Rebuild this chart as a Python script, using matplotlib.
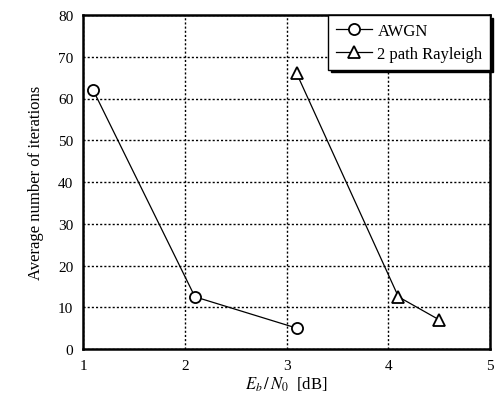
import matplotlib
matplotlib.use("Agg")
import matplotlib.pyplot as plt

plt.rcParams['font.family'] = ['Liberation Serif', 'DejaVu Serif']
plt.rcParams['mathtext.fontset'] = 'stix'

# data
snr_awgn = [1.1, 2.1, 3.1]
iter_awgn = [62, 12.5, 5]
snr_ray = [3.1, 4.1, 4.5]
iter_ray = [66, 12.5, 7]

fig = plt.figure(figsize=(4.97, 4.02), dpi=100)
ax = fig.add_axes([83/497, 1 - 350/402, 407/497, 334/402])

ax.plot(snr_awgn, iter_awgn, color='black', lw=0.9, marker='o', ms=8,
        mfc='white', mec='black', mew=1.3, label='AWGN')
ax.plot(snr_ray, iter_ray, color='black', lw=0.9, marker='^', ms=8,
        mfc='white', mec='black', mew=1.3, label='2 path Rayleigh')

ax.set_xlim(1, 5)
ax.set_ylim(0, 80)
ax.set_xticks([1, 2, 3, 4, 5])
ax.set_yticks(range(0, 81, 10))
ax.tick_params(length=0, labelsize=11, pad=7)
ax.grid(True, color='black', ls=(0, (1.5, 1.5)), lw=1.0)
for s in ax.spines.values():
    s.set_linewidth(1.8)

ax.set_xlabel(r'$E_b\,/\,N_0$  [dB]', fontsize=12, labelpad=2)
ax.set_ylabel('Average number of iterations', fontsize=12, labelpad=10)

leg = ax.legend(loc='upper right', fontsize=12, frameon=True, fancybox=False,
                shadow={'color': 'black', 'alpha': 1.0, 'ox': 2, 'oy': -2},
                borderaxespad=0.0, handlelength=2.2, framealpha=1,
                borderpad=0.45, labelspacing=0.45, handletextpad=0.3)
leg.get_frame().set_edgecolor('black')
leg.get_frame().set_linewidth(1.0)

fig.savefig('out.png', dpi=100)
